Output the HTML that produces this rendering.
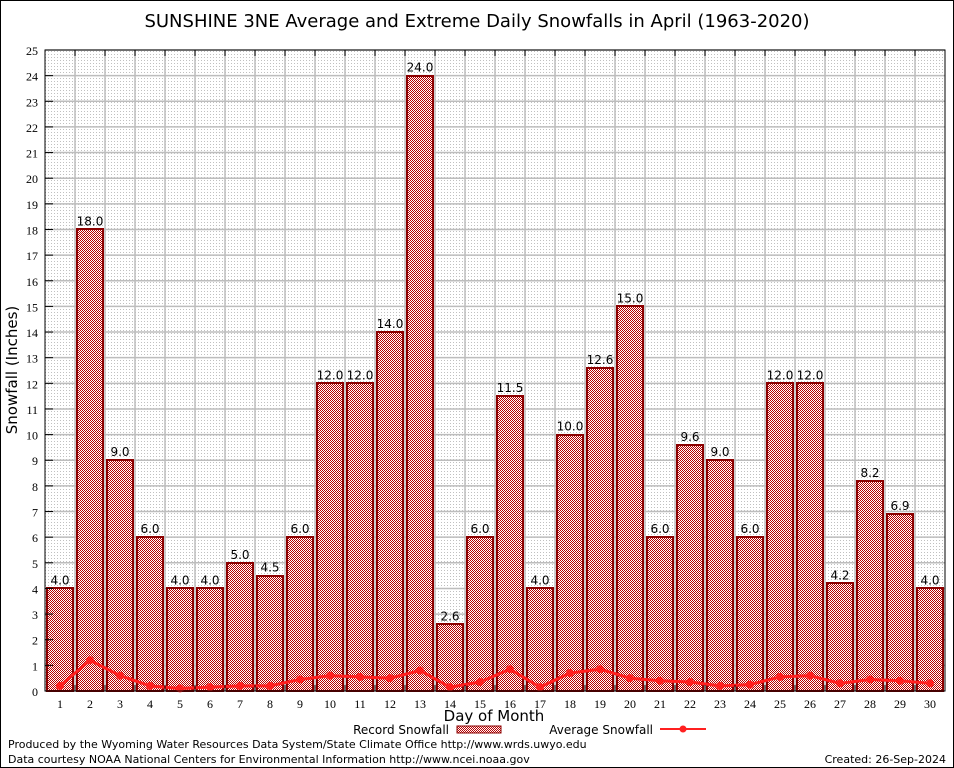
<!DOCTYPE html>
<html><head><meta charset="utf-8"><style>
body{margin:0;background:#fff}
svg{display:block;font-family:"DejaVu Sans","Liberation Sans",sans-serif}
</style></head><body>
<svg id="chart" width="954" height="768" viewBox="0 0 954 768" xmlns="http://www.w3.org/2000/svg">
<defs>
<pattern id="chk" x="0" y="0" width="2" height="2" patternUnits="userSpaceOnUse" shape-rendering="crispEdges"><rect width="2" height="2" fill="#fff"/><rect width="1" height="1" fill="#b80000"/><rect x="1" y="1" width="1" height="1" fill="#b80000"/></pattern>
<pattern id="dots" width="3" height="3" patternUnits="userSpaceOnUse" shape-rendering="crispEdges"><rect width="3" height="3" fill="#fff"/><rect width="1" height="1" fill="#c0c0c0"/></pattern>
</defs>
<rect x="0.5" y="0.5" width="953" height="767" fill="#fff" stroke="#000"/>
<text x="477" y="27" font-size="18" text-anchor="middle">SUNSHINE 3NE Average and Extreme Daily Snowfalls in April (1963-2020)</text>
<rect x="45" y="50" width="900" height="641" fill="url(#dots)"/>
<g id="grid"></g>
<g id="bars"></g>
<g id="line"></g>
<g id="axes"></g>
<text x="17" y="370" font-size="15" text-anchor="middle" transform="rotate(-90 17 370)">Snowfall (Inches)</text>
<text x="494" y="721" font-size="15" text-anchor="middle">Day of Month</text>
<g><text x="449" y="734" font-size="12" text-anchor="end">Record Snowfall</text><rect x="457" y="726" width="44" height="7" fill="url(#chk)" stroke="#8b0000" shape-rendering="crispEdges"/></g>
<g><text x="653" y="734" font-size="12" text-anchor="end">Average Snowfall</text><line x1="660" y1="729" x2="706" y2="729" stroke="#ff2020" stroke-width="2"/><circle cx="683" cy="729" r="3.5" fill="#ff2020"/></g>
<text x="8" y="748" font-size="11">Produced by the Wyoming Water Resources Data System/State Climate Office http://www.wrds.uwyo.edu</text>
<text x="8" y="763" font-size="11">Data courtesy NOAA National Centers for Environmental Information http://www.ncei.noaa.gov</text>
<text x="946" y="763" font-size="11" text-anchor="end">Created: 26-Sep-2024</text>
</svg>
<script>
const days=[1,2,3,4,5,6,7,8,9,10,11,12,13,14,15,16,17,18,19,20,21,22,23,24,25,26,27,28,29,30];
const recordVals=[4.0,18.0,9.0,6.0,4.0,4.0,5.0,4.5,6.0,12.0,12.0,14.0,24.0,2.6,6.0,11.5,4.0,10.0,12.6,15.0,6.0,9.6,9.0,6.0,12.0,12.0,4.2,8.2,6.9,4.0];
const avgVals=[0.2,1.2,0.6,0.2,0.1,0.15,0.2,0.2,0.45,0.6,0.55,0.5,0.8,0.15,0.35,0.85,0.15,0.7,0.85,0.5,0.4,0.35,0.2,0.25,0.55,0.6,0.3,0.45,0.4,0.3];
const yTicks=[0,1,2,3,4,5,6,7,8,9,10,11,12,13,14,15,16,17,18,19,20,21,22,23,24,25];
const NS='http://www.w3.org/2000/svg';
const L=45,R=945,T=50,B=691,yMax=25;
const bw=(R-L)/days.length;
const xC=i=>L+bw*(i+0.5);
const y=v=>B-(B-T)*v/yMax;
function mk(tag,attrs,parent){const e=document.createElementNS(NS,tag);for(const k in attrs)e.setAttribute(k,attrs[k]);parent.appendChild(e);return e;}
const grid=document.getElementById('grid'),bars=document.getElementById('bars'),line=document.getElementById('line'),axes=document.getElementById('axes');
yTicks.forEach(t=>{
  const g=mk('line',{x1:L,x2:R,y1:y(t),y2:y(t),stroke:'#bdbdbd','stroke-width':1.5},grid);
  
  
  const tx=mk('text',{x:38,y:y(t)+5,'font-size':12,'text-anchor':'end','font-family':'Liberation Serif, serif'},axes);
  tx.textContent=t;
  
  
  mk('line',{x1:L,x2:L+8,y1:y(t),y2:y(t),stroke:'#000'},axes);
});
for(let i=1;i<days.length;i++){
  const g=mk('line',{x1:L+bw*i,x2:L+bw*i,y1:T,y2:B,stroke:'#bdbdbd','stroke-width':1.5},grid);
  
  
  mk('line',{x1:L+bw*i,x2:L+bw*i,y1:T,y2:T+6,stroke:'#000'},axes);
  mk('line',{x1:L+bw*i,x2:L+bw*i,y1:B,y2:B-6,stroke:'#000'},axes);
}
days.forEach((d,i)=>{
  const r=mk('rect',{x:Math.round(xC(i)-13),y:Math.round(y(recordVals[i])),width:26,height:B-Math.round(y(recordVals[i])),fill:'url(#chk)',stroke:'#8b0000','stroke-width':2,'shape-rendering':'crispEdges'},bars);
  
  
  const lb=mk('text',{x:xC(i),y:y(recordVals[i])-4,'font-size':12,'text-anchor':'middle'},bars);
  lb.textContent=recordVals[i].toFixed(1);
  
  
  const xl=mk('text',{x:xC(i),y:708,'font-size':12,'text-anchor':'middle','font-family':'Liberation Serif, serif'},axes);
  xl.textContent=d;
  
  
});
const pl=mk('polyline',{points:avgVals.map((v,i)=>xC(i)+','+y(v)).join(' '),fill:'none',stroke:'#ff2020','stroke-width':3},line);


avgVals.forEach((v,i)=>{
  const c=mk('circle',{cx:xC(i),cy:y(v),r:4,fill:'#ff2020'},line);
  
  
});
const fr=mk('rect',{x:L,y:T,width:R-L,height:B-T,fill:'none',stroke:'#000'},axes);


</script>
</body></html>
